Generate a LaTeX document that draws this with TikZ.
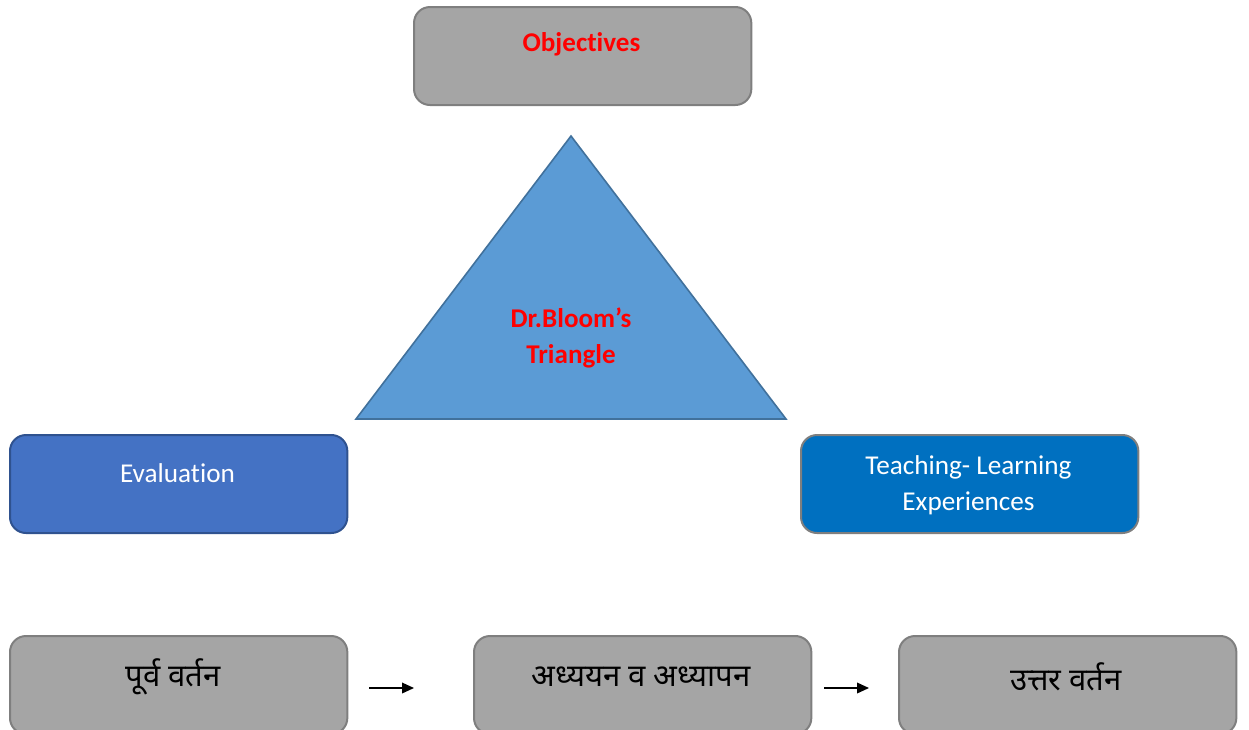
\documentclass[tikz,border=0pt]{standalone}
\usepackage{fontspec}
\setmainfont[Ligatures=NoCommon]{Carlito}
\newfontfamily\devfont[Script=Devanagari]{Noto Sans}
\usetikzlibrary{arrows.meta}
\definecolor{boxgray}{HTML}{A5A5A5}
\definecolor{graybord}{HTML}{7F7F7F}
\definecolor{evalblue}{HTML}{4472C4}
\definecolor{evalbord}{HTML}{2F528F}
\definecolor{teachblue}{HTML}{0070C0}
\definecolor{triblue}{HTML}{5B9BD5}
\definecolor{tribord}{HTML}{41719C}
\definecolor{redtext}{HTML}{FF0000}
\tikzset{
  card/.style={draw=graybord, line width=1.5pt, rounded corners=12pt, fill=boxgray, minimum width=253pt, minimum height=73.5pt, inner sep=0pt},
  redlbl/.style={text=redtext, font=\fontsize{20.3pt}{27pt}\selectfont\bfseries, align=center},
  whitelbl/.style={text=white, font=\fontsize{20.4pt}{27pt}\selectfont, align=center},
  devlbl/.style={text=black, font=\devfont\fontsize{23.3pt}{28pt}\selectfont},
  flow/.style={line width=1.1pt, -{Triangle[length=9pt,width=8pt]}}
}
\begin{document}
\begin{tikzpicture}[x=0.75pt,y=-0.75pt]
\useasboundingbox (0,0) rectangle (1249,729);
\clip (0,0) rectangle (1249,729);
% top
\node[card, anchor=north west] (obj) at (413,6) {};
\node[redlbl] (objt) at (581.5,44) {Objectives};
% triangle
\draw[fill=triblue, draw=tribord, line width=1.2pt, line join=miter] (571,136) -- (786,419) -- (356,419) -- cycle;
\node[redlbl] (tri) at (571,338) {Dr.Bloom’s\\Triangle};
% evaluation
\node[card, anchor=north west, fill=evalblue, draw=evalbord] (eval) at (9,434) {};
\node[whitelbl] (evalt) at (177.5,473) {Evaluation};
% teaching
\node[card, anchor=north west, fill=teachblue] (teach) at (800,434) {};
\node[whitelbl] (teacht) at (968.5,485) {Teaching- Learning\\Experiences};
% bottom row
\node[card, anchor=north west] (b1) at (9,635) {};
\node[card, anchor=north west] (b2) at (473,635) {};
\node[card, anchor=north west] (b3) at (898,635) {};
\node[devlbl] (b1t) at (173,677) {पूर्व वर्तन};
\node[devlbl] (b2t) at (641,677) {अध्ययन व अध्यापन};
\node[devlbl] (b3t) at (1066,677) {उत्तर वर्तन};
\coordinate (a1s) at (369,688);
\coordinate (a1e) at (414,688);
\coordinate (a2s) at (824,688);
\coordinate (a2e) at (869,688);
\draw[flow] (a1s) -- (a1e);
\draw[flow] (a2s) -- (a2e);
\end{tikzpicture}
\end{document}
